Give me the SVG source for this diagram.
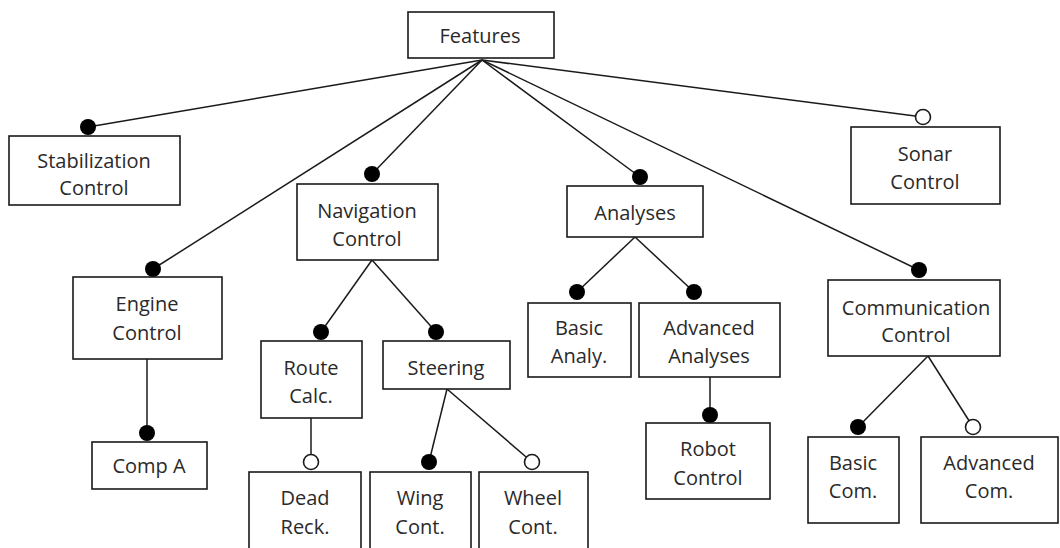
<svg xmlns="http://www.w3.org/2000/svg" width="1060" height="548" viewBox="0 0 1060 548">
  <style>
    .box { fill: #ffffff; stroke: #1a1a1a; stroke-width: 1.6; }
    .lbl { font-family: "Open Sans", "Liberation Sans", sans-serif; font-size: 20px; fill: #2a2a2a; text-anchor: middle; dominant-baseline: central; }
    .edge { stroke: #1a1a1a; stroke-width: 1.5; fill: none; }
    .mand { fill: #000000; }
    .opt { fill: #ffffff; stroke: #1a1a1a; stroke-width: 1.6; }
  </style>
  <rect width="1060" height="548" fill="#ffffff"/>

  <!-- connectors: lines first, feature markers drawn on top -->
  <g id="connectors">
    <line class="edge" x1="482" y1="60" x2="88" y2="127"/>
    <line class="edge" x1="482" y1="60" x2="153" y2="269"/>
    <line class="edge" x1="482" y1="60" x2="372" y2="174"/>
    <line class="edge" x1="482" y1="60" x2="640" y2="177"/>
    <line class="edge" x1="482" y1="60" x2="919" y2="270"/>
    <line class="edge" x1="482" y1="60" x2="923" y2="117"/>
    <line class="edge" x1="147" y1="359" x2="147" y2="433"/>
    <line class="edge" x1="372" y1="260" x2="321" y2="332"/>
    <line class="edge" x1="372" y1="260" x2="436" y2="332"/>
    <line class="edge" x1="311" y1="418" x2="311" y2="462"/>
    <line class="edge" x1="447" y1="389" x2="429" y2="462"/>
    <line class="edge" x1="447" y1="389" x2="532" y2="462"/>
    <line class="edge" x1="635" y1="237" x2="577" y2="292"/>
    <line class="edge" x1="635" y1="237" x2="694" y2="292"/>
    <line class="edge" x1="710" y1="377" x2="710" y2="415"/>
    <line class="edge" x1="928" y1="356" x2="858" y2="427"/>
    <line class="edge" x1="928" y1="356" x2="973" y2="427"/>

    <circle class="mand" cx="88" cy="127" r="8"/>
    <circle class="mand" cx="153" cy="269" r="8"/>
    <circle class="mand" cx="372" cy="174" r="8"/>
    <circle class="mand" cx="640" cy="177" r="8"/>
    <circle class="mand" cx="919" cy="270" r="8"/>
    <circle class="opt" cx="923" cy="117" r="7.5"/>
    <circle class="mand" cx="147" cy="433" r="8"/>
    <circle class="mand" cx="321" cy="332" r="8"/>
    <circle class="mand" cx="436" cy="332" r="8"/>
    <circle class="opt" cx="311" cy="462" r="7.5"/>
    <circle class="mand" cx="429" cy="462" r="8"/>
    <circle class="opt" cx="532" cy="462" r="7.5"/>
    <circle class="mand" cx="577" cy="292" r="8"/>
    <circle class="mand" cx="694" cy="292" r="8"/>
    <circle class="mand" cx="710" cy="415" r="8"/>
    <circle class="mand" cx="858" cy="427" r="8"/>
    <circle class="opt" cx="973" cy="427" r="7.5"/>
  </g>

  <g id="features">
    <rect class="box" x="408" y="12" width="146" height="46"/>
    <text class="lbl" x="480" y="35">Features</text>
  </g>
  <g id="stabilization-control">
    <rect class="box" x="9" y="136" width="171" height="69"/>
    <text class="lbl" x="94" y="160">Stabilization</text>
    <text class="lbl" x="94" y="187">Control</text>
  </g>
  <g id="navigation-control">
    <rect class="box" x="297" y="184" width="141" height="76"/>
    <text class="lbl" x="367" y="210">Navigation</text>
    <text class="lbl" x="367" y="238">Control</text>
  </g>
  <g id="analyses">
    <rect class="box" x="567" y="186" width="136" height="51"/>
    <text class="lbl" x="635" y="212">Analyses</text>
  </g>
  <g id="sonar-control">
    <rect class="box" x="851" y="127" width="149" height="77"/>
    <text class="lbl" x="925" y="153">Sonar</text>
    <text class="lbl" x="925" y="181">Control</text>
  </g>
  <g id="engine-control">
    <rect class="box" x="73" y="277" width="149" height="82"/>
    <text class="lbl" x="147" y="303">Engine</text>
    <text class="lbl" x="147" y="332">Control</text>
  </g>
  <g id="comp-a">
    <rect class="box" x="92" y="442" width="115" height="47"/>
    <text class="lbl" x="149" y="465">Comp A</text>
  </g>
  <g id="route-calc">
    <rect class="box" x="261" y="341" width="101" height="77"/>
    <text class="lbl" x="311" y="367">Route</text>
    <text class="lbl" x="311" y="395">Calc.</text>
  </g>
  <g id="steering">
    <rect class="box" x="383" y="341" width="127" height="48"/>
    <text class="lbl" x="446" y="367">Steering</text>
  </g>
  <g id="basic-analy">
    <rect class="box" x="528" y="303" width="103" height="74"/>
    <text class="lbl" x="579" y="327">Basic</text>
    <text class="lbl" x="579" y="355">Analy.</text>
  </g>
  <g id="advanced-analyses">
    <rect class="box" x="639" y="303" width="141" height="74"/>
    <text class="lbl" x="709" y="327">Advanced</text>
    <text class="lbl" x="709" y="355">Analyses</text>
  </g>
  <g id="robot-control">
    <rect class="box" x="646" y="423" width="124" height="76"/>
    <text class="lbl" x="708" y="448">Robot</text>
    <text class="lbl" x="708" y="477">Control</text>
  </g>
  <g id="communication-control">
    <rect class="box" x="828" y="280" width="172" height="76"/>
    <text class="lbl" x="916" y="307">Communication</text>
    <text class="lbl" x="916" y="334">Control</text>
  </g>
  <g id="dead-reck">
    <rect class="box" x="249" y="472" width="112" height="90"/>
    <text class="lbl" x="305" y="497">Dead</text>
    <text class="lbl" x="305" y="526">Reck.</text>
  </g>
  <g id="wing-cont">
    <rect class="box" x="370" y="472" width="101" height="90"/>
    <text class="lbl" x="420" y="497">Wing</text>
    <text class="lbl" x="420" y="526">Cont.</text>
  </g>
  <g id="wheel-cont">
    <rect class="box" x="479" y="472" width="109" height="90"/>
    <text class="lbl" x="533" y="497">Wheel</text>
    <text class="lbl" x="533" y="526">Cont.</text>
  </g>
  <g id="basic-com">
    <rect class="box" x="808" y="437" width="91" height="86"/>
    <text class="lbl" x="853" y="462">Basic</text>
    <text class="lbl" x="853" y="490">Com.</text>
  </g>
  <g id="advanced-com">
    <rect class="box" x="921" y="437" width="137" height="86"/>
    <text class="lbl" x="989" y="462">Advanced</text>
    <text class="lbl" x="989" y="490">Com.</text>
  </g>
</svg>
